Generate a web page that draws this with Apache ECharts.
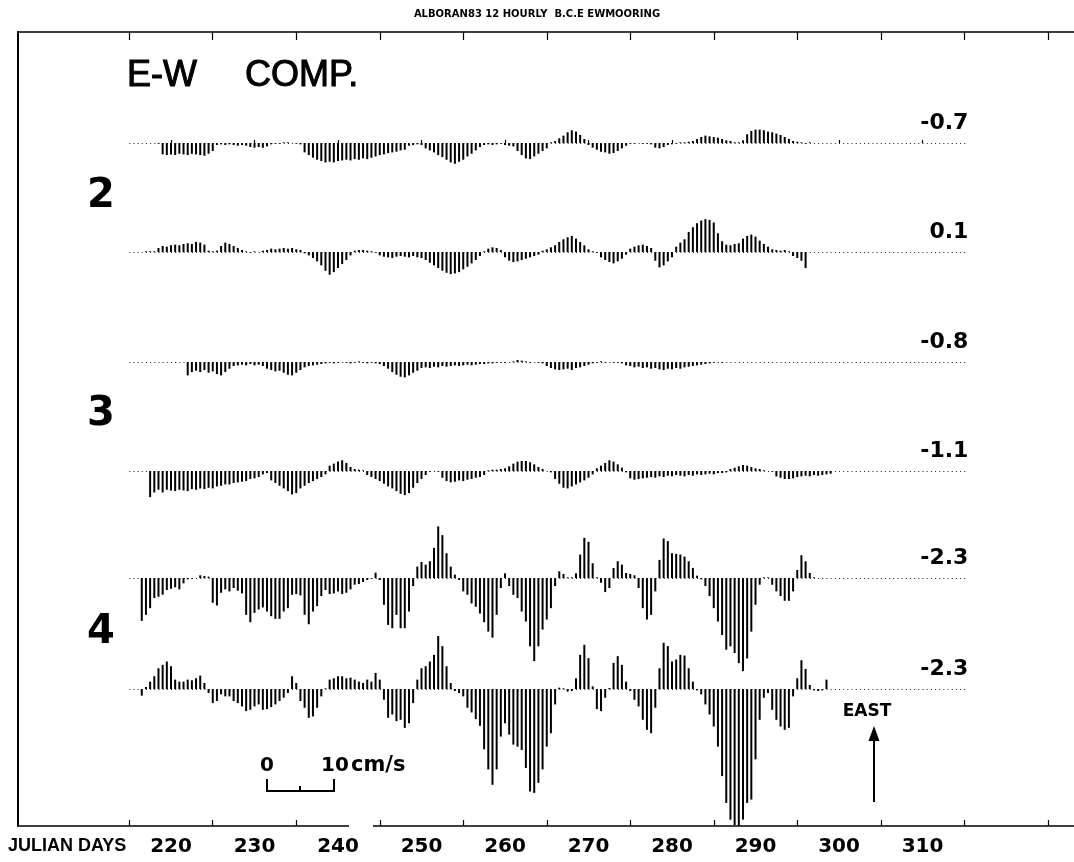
<!DOCTYPE html>
<html><head><meta charset="utf-8">
<script src="https://cdn.jsdelivr.net/npm/echarts@6/dist/echarts.min.js"></script>
<style>html,body{margin:0;padding:0;background:#fff}#c{width:1074px;height:862px}</style>
</head><body><div id="c"></div>
<script>
// ---------- DATA (12-hourly E-W velocity, cm/s; first sample at Julian day 216.0) ----------
const START_DAY = 216.0;
const STEP_DAYS = 0.5;

const ROW1 = [
  0,0,0,0,0,-0.1,
  -1.7,-1.8,-1.7,-1.8,-1.6,-1.7,-1.8,-1.6,-1.7,-1.8,-1.9,-1.6,-1.2,
  -0.3,-0.2,-0.3,-0.2,-0.3,-0.4,-0.3,-0.4,
  -0.6,-0.7,-0.6,-0.7,-0.5,
  -0.2,-0.1,-0.1,0.1,0.1,0,-0.1,-0.2,
  -1.4,-1.8,-2.2,-2.5,-2.7,
  -2.9,-2.8,-2.9,-2.7,
  -2.6,-2.5,-2.6,-2.4,-2.5,-2.3,-2.4,-2.2,-2.0,
  -1.8,-1.7,-1.5,-1.4,-1.3,-1.1,-1.0,
  -0.4,-0.3,-0.2,-0.3,
  -0.8,-1.1,-1.4,-1.8,-2.1,
  -2.5,-2.9,-3.1,-2.8,
  -2.5,-2.0,-1.6,-1.1,-0.6,
  -0.3,-0.2,-0.3,-0.2,-0.1,-0.3,-0.4,-0.5,
  -1.2,-1.8,-2.3,-2.4,-2.0,-1.6,-1.2,-0.8,
  0.1,0.3,
  0.7,1.1,1.6,1.9,1.7,1.2,0.6,
  -0.3,-0.7,-1.0,-1.3,-1.4,-1.6,-1.5,-1.2,-0.8,-0.4,
  -0.1,-0.1,0,-0.1,-0.1,-0.2,
  -0.7,-0.8,-0.6,
  -0.3,-0.2,-0.1,0.1,0.1,0.2,0.3,
  0.6,0.9,1.1,1.0,0.9,0.8,0.6,0.4,0.3,
  0.1,0.1,0.4,
  1.3,1.8,2.0,2.0,1.9,1.7,1.6,1.4,1.2,0.9,0.6,
  0.3,0.2,0.1,-0.1,0.1
];

const ROW2 = [
  0,0,0.1,0.1,0.1,0.6,
  0.9,0.8,1.0,1.1,1.0,1.2,1.3,1.2,1.5,1.4,1.1,
  0.2,0.1,0.2,
  0.9,1.4,1.2,0.9,0.6,0.3,
  0.1,-0.1,0.1,0,0.2,
  0.3,0.5,0.4,0.5,0.6,0.5,0.6,0.4,0.3,
  -0.2,-0.5,-0.9,-1.4,-2.0,-2.8,-3.4,-3.0,-2.4,-1.8,-1.2,-0.5,
  0.2,0.3,0.3,0.2,0.1,-0.1,
  -0.5,-0.7,-0.8,-0.9,-0.7,-0.6,-0.7,-0.8,-0.6,-0.8,
  -0.9,-1.2,-1.6,-2.0,-2.4,-2.8,-3.1,-3.3,-3.2,-3.0,-2.6,-2.2,-1.7,-1.2,-0.6,
  0.1,0.5,0.7,0.6,0.3,
  -0.8,-1.3,-1.5,-1.4,-1.2,-1.0,-0.8,-0.6,-0.4,
  0.2,0.4,0.7,1.0,1.5,1.9,2.2,2.4,2.0,1.5,1.0,0.4,
  0.1,-0.1,
  -0.8,-1.2,-1.5,-1.7,-1.4,-1.0,-0.4,
  0.5,0.8,1.0,1.1,0.9,0.6,
  -1.3,-2.3,-2.0,-1.4,-0.8,
  0.8,1.4,1.9,3.0,3.7,4.3,4.7,4.9,4.8,4.4,2.8,1.6,
  1.1,1.0,1.2,1.3,
  2.0,2.4,2.6,2.3,1.7,1.2,0.8,
  0.4,0.3,0.2,0.3,0.1,
  -0.6,-0.9,-1.3,-2.4
];

const ROW3 = [
  0,0,0,0,0,0,0,0,0,0,0,0,
  -2.0,-1.5,-1.3,-1.5,-1.2,-1.6,-1.4,-1.8,-2.0,-1.5,-1.0,
  -0.6,-0.5,-0.4,-0.5,-0.3,-0.5,-0.4,-0.6,
  -1.0,-1.2,-1.4,-1.3,-1.6,-1.9,-2.0,-1.6,-1.2,
  -0.8,-0.6,-0.5,-0.4,-0.3,-0.2,
  -0.1,-0.2,-0.1,0,-0.1,-0.2,-0.1,0.1,-0.1,-0.2,-0.1,-0.2,-0.3,-0.6,
  -1.0,-1.5,-1.9,-2.2,-2.3,-2.0,-1.6,-1.3,
  -0.9,-0.8,-0.9,-0.7,-0.8,-0.6,-0.7,-0.6,-0.5,-0.6,-0.5,-0.4,-0.5,-0.4,-0.3,-0.3,-0.2,-0.2,-0.1,-0.1,-0.1,0,0.1,
  0.3,0.2,0.1,-0.1,0,-0.1,-0.2,
  -0.6,-0.9,-1.1,-1.2,-1.1,-1.0,-1.2,-0.9,-0.8,-0.6,-0.4,
  -0.2,-0.1,0.1,-0.1,0,-0.1,-0.1,-0.2,
  -0.5,-0.6,-0.8,-0.7,-0.9,-0.8,-1.0,-0.9,-1.1,-1.2,-1.0,-1.1,-0.9,-1.0,-0.8,-0.7,-0.6,-0.5,-0.4,-0.3,-0.2,
  -0.1,0,-0.1,0
];

const ROW4 = [
  0,0,0,
  -3.9,-3.2,-2.8,-3.2,-2.8,-2.9,-3.0,-2.8,-2.9,-3.0,-2.7,-2.8,-2.6,-2.7,-2.5,
  -2.6,-2.3,-2.2,-2.0,-2.0,-1.8,-1.7,-1.6,-1.5,-1.2,-1.1,-0.9,-0.5,-0.3,
  -1.4,-1.8,-2.2,-2.6,-3.0,-3.5,-3.3,-2.6,-2.2,-1.8,-1.5,-1.2,-0.9,-0.5,
  0.8,1.1,1.4,1.6,1.2,0.6,0.3,0.2,0.1,
  -0.6,-0.9,-1.2,-1.5,-1.9,-2.3,-2.6,-3.0,-3.4,-3.6,-3.3,-2.5,-1.8,-1.2,-0.6,
  -0.1,0,-0.1,
  -1.0,-1.5,-1.7,-1.6,-1.4,-1.5,-1.3,-1.2,-1.0,-0.9,-0.6,
  0.1,0.2,0.2,0.3,0.4,
  0.7,1.1,1.4,1.5,1.5,1.3,1.0,0.6,0.3,
  0,-0.2,
  -1.2,-1.9,-2.5,-2.6,-2.3,-2.0,-1.7,-1.4,-1.0,-0.5,
  0.4,0.8,1.2,1.6,1.4,1.0,0.5,
  -0.2,-1.1,-1.3,-1.2,-1.1,-1.0,-0.9,-1.0,-0.8,-0.9,-0.7,-0.8,-0.6,-0.7,-0.8,-0.6,-0.7,-0.5,-0.6,-0.5,-0.4,-0.5,-0.3,-0.3,-0.2,
  0.3,0.5,0.7,0.9,0.8,0.6,0.4,0.3,0.1,
  0,-0.1,
  -0.8,-1.0,-1.2,-1.2,-1.1,-0.9,-0.8,-0.7,-0.8,-0.6,-0.7,-0.6,-0.5,-0.4
];

const ROW5 = [
  0,
  -6.4,-5.5,-4.5,-3.0,-2.8,-2.5,-1.8,-1.6,-1.4,-1.7,-0.8,-0.2,-0.1,0,
  0.4,0.3,0.2,
  -3.7,-4.1,-2.2,-1.7,-2.0,-1.5,-1.9,-2.3,
  -5.5,-6.6,-5.2,-4.7,-4.4,-5.0,-5.7,-6.1,-6.1,-5.0,-4.5,
  -2.5,-2.4,-2.6,
  -5.5,-6.9,-5.0,-4.2,-2.7,
  -1.8,-2.4,-2.3,-2.0,-2.4,-2.2,-1.7,-1.0,-0.9,-0.6,-0.3,
  -0.1,0.8,-0.3,
  -4.0,-7.0,-7.5,-5.5,-7.5,-7.5,-5.0,-1.2,
  1.7,2.4,2.0,2.5,4.5,7.7,6.4,3.7,1.7,0.5,
  -0.3,-2.0,-2.5,-3.8,-4.3,-5.3,-6.6,-8.0,-8.9,-5.5,-1.5,
  0.7,
  -1.2,-2.5,-3.0,-5.0,-6.5,-10.2,-12.4,-10.2,-7.7,-6.2,-4.5,-1.2,
  1.0,0.6,0.1,0.1,0.7,
  3.5,6.0,5.4,2.2,0.1,
  -0.7,-2.1,-1.5,
  1.5,2.5,2.0,0.75,0.6,0.4,
  -1.5,-4.5,-6.2,-5.5,-2.0,
  2.7,5.9,5.5,3.7,3.6,3.5,3.2,2.5,1.5,0.35,
  -0.2,-1.2,-2.7,-4.5,-6.5,-8.5,-10.7,-10.2,-11.2,-12.7,-13.9,-12.0,-8.0,-4.0,-1.0,
  0.1,0.1,
  -1.0,-2.0,-2.7,-3.4,-3.4,-2.0,
  1.2,3.4,2.5,0.75,0.1
];

const ROW6 = [
  0,-1.0,0.3,
  1.1,1.9,3.1,3.6,4.1,3.4,1.4,1.1,1.1,1.4,1.3,1.6,2.0,0.9,
  -0.6,-2.1,-1.8,-0.8,-1.1,-1.1,-1.8,-2.1,-2.6,-3.3,-3.1,-2.6,-2.3,-3.1,-3.0,-2.7,-2.3,-1.8,-1.3,-0.6,
  1.9,0.9,
  -1.8,-2.8,-4.3,-4.1,-2.8,-1.1,
  0.1,
  1.4,1.6,1.9,1.9,1.6,1.7,1.4,1.1,0.9,1.4,1.1,2.4,1.4,
  -1.6,-4.3,-3.8,-4.8,-4.6,-5.8,-5.1,-2.1,
  1.4,3.1,3.4,4.1,5.1,7.9,6.4,3.4,0.9,
  -0.3,-0.6,-1.1,-2.8,-3.5,-4.5,-5.5,-9.0,-12.0,-14.3,-12.0,-7.1,-5.1,-6.8,-8.3,-8.6,-9.1,-11.8,-15.3,-15.5,-14.0,-12.0,-8.6,-6.6,-2.3,
  0.2,0.1,-0.4,-0.3,
  1.6,5.1,6.6,4.6,0.4,
  -3.0,-3.3,-1.3,
  0.15,3.9,4.9,3.6,1.1,
  -0.3,-1.6,-2.6,-4.6,-6.1,-6.6,-2.8,
  3.1,6.9,6.4,4.1,4.4,5.1,5.0,3.1,1.1,
  -0.2,-0.8,-2.3,-3.8,-5.6,-8.6,-13.0,-17.0,-19.5,-20.3,-20.5,-19.5,-17.0,-16.5,-10.5,-4.6,-1.3,-0.6,
  -3.1,-4.6,-5.6,-6.1,-5.8,-1.1,
  1.6,4.3,3.0,0.6,
  -0.2,-0.3,-0.2,1.4,0
];

const ROWS = [ROW1, ROW2, ROW3, ROW4, ROW5, ROW6];
const ROW_MEANS = ['-0.7', '0.1', '-0.8', '-1.1', '-2.3', '-2.3'];
const MOORING_NUMBERS = ['2', '3', '4'];
const DAY_LABELS = [220, 230, 240, 250, 260, 270, 280, 290, 300, 310];
const MAJOR_TICKS = [215, 225, 235, 245, 255, 265, 275, 285, 295, 305, 315, 325];
const BASELINE_FROM = 215.0, BASELINE_TO = 315.5;

// ---------- LAYOUT ----------
const FRAME_L = 18, FRAME_T = 32, FRAME_B = 826, W = 1074, H = 862;
const PX_PER_DAY = 8.35, REF_DAY = 220, REF_X = 171;
const X_MIN = REF_DAY - (REF_X - FRAME_L) / PX_PER_DAY;
const X_MAX = REF_DAY + (W - REF_X) / PX_PER_DAY;
const BASE_Y = [143, 252, 362, 471, 578, 689];
const PX_PER_CMS = 6.7;
const dayX = d => REF_X + (d - REF_DAY) * PX_PER_DAY;

const chart = echarts.init(document.getElementById('c'));
const grids = [], xAxes = [], yAxes = [], series = [];
ROWS.forEach((row, i) => {
  grids.push({ left: FRAME_L, right: 0, top: FRAME_T, bottom: H - FRAME_B, containLabel: false });
  xAxes.push({
    type: 'value', gridIndex: i, min: X_MIN, max: X_MAX, position: 'bottom',
    show: i === 0,
    axisLine: { show: i === 0, onZero: false, lineStyle: { color: '#000', width: 1.6 } },
    axisTick: { show: i === 0, inside: true, length: 6, customValues: MAJOR_TICKS, lineStyle: { color: '#000', width: 1.2 } },
    axisLabel: { show: i === 0, customValues: DAY_LABELS, margin: 11, color: '#000',
      fontFamily: 'DejaVu Sans', fontWeight: 'bold', fontSize: 20, formatter: v => String(v) },
    splitLine: { show: false }
  });
  yAxes.push({
    type: 'value', gridIndex: i,
    min: -(FRAME_B - BASE_Y[i]) / PX_PER_CMS,
    max: (BASE_Y[i] - FRAME_T) / PX_PER_CMS,
    show: i === 0,
    axisLine: { show: i === 0, onZero: false, lineStyle: { color: '#000', width: 2 } },
    axisTick: { show: false }, axisLabel: { show: false }, splitLine: { show: false }
  });
  series.push({
    type: 'bar', xAxisIndex: i, yAxisIndex: i,
    data: row.map((v, k) => [START_DAY + k * STEP_DAYS, v]),
    barWidth: 2, itemStyle: { color: '#000' }, silent: true,
    markLine: {
      silent: true, symbol: ['none', 'none'], label: { show: false },
      lineStyle: { color: '#222', width: 1.2, type: [1, 3.175] },
      data: [[{ coord: [BASELINE_FROM, 0] }, { coord: [BASELINE_TO, 0] }]]
    }
  });
});
// short ticks under the day labels
xAxes.push({
  type: 'value', gridIndex: 0, min: X_MIN, max: X_MAX, position: 'bottom',
  axisLine: { show: false },
  axisTick: { show: true, inside: true, length: 3, customValues: DAY_LABELS, lineStyle: { color: '#000', width: 1.2 } },
  axisLabel: { show: false }, splitLine: { show: false }
});
// top frame with ticks
xAxes.push({
  type: 'value', gridIndex: 0, min: X_MIN, max: X_MAX, position: 'top',
  axisLine: { show: true, onZero: false, lineStyle: { color: '#000', width: 1.6 } },
  axisTick: { show: true, inside: true, length: 8, customValues: MAJOR_TICKS, lineStyle: { color: '#000', width: 1.2 } },
  axisLabel: { show: false }, splitLine: { show: false }
});

const txt = (x, y, text, font, align, bold) => ({
  type: 'text', x, y, z: 100,
  style: Object.assign({ text, font, fill: '#000', textAlign: align || 'left', textVerticalAlign: 'middle' },
    bold ? { stroke: '#000', lineWidth: bold } : {})
});
const labelX = dayX(BASELINE_TO);
const graphic = [
  txt(537, 14, 'ALBORAN83 12 HOURLY  B.C.E EWMOORING', 'bold 10px "DejaVu Sans"', 'center'),
  txt(127, 76, 'E-W', '36px "Liberation Sans"', 'left', 1),
  txt(245, 76, 'COMP.', '36px "Liberation Sans"', 'left', 1),
  txt(101, 197, MOORING_NUMBERS[0], 'bold 40px "DejaVu Sans"', 'center'),
  txt(101, 415, MOORING_NUMBERS[1], 'bold 40px "DejaVu Sans"', 'center'),
  txt(101, 633, MOORING_NUMBERS[2], 'bold 40px "DejaVu Sans"', 'center'),
  txt(8, 846, 'JULIAN DAYS', 'bold 18px "Liberation Sans"'),
  txt(267, 766, '0', 'bold 20px "DejaVu Sans"', 'center'),
  txt(321, 766, '10', 'bold 20px "DejaVu Sans"'),
  txt(351, 766, 'cm/s', 'bold 21px "DejaVu Sans"'),
  txt(867, 712, 'EAST', 'bold 17px "DejaVu Sans"', 'center'),
  { type: 'polyline', z: 100, shape: { points: [[267, 779], [267, 791], [334, 791], [334, 779]] },
    style: { stroke: '#000', lineWidth: 2, fill: null } },
  { type: 'line', z: 100, shape: { x1: 300, y1: 791, x2: 300, y2: 786 }, style: { stroke: '#000', lineWidth: 2 } },
  { type: 'line', z: 100, shape: { x1: 874, y1: 802, x2: 874, y2: 738 }, style: { stroke: '#000', lineWidth: 2 } },
  { type: 'polygon', z: 100, shape: { points: [[874, 726], [868.5, 741], [879.5, 741]] }, style: { fill: '#000' } },
  { type: 'rect', z: 100, shape: { x: 349, y: 821, width: 24, height: 9 }, style: { fill: '#fff' } }
];
ROW_MEANS.forEach((t, i) => graphic.push(txt(labelX, BASE_Y[i] - 20, t, 'bold 22px "DejaVu Sans"', 'right')));

chart.setOption({
  animation: false,
  backgroundColor: '#fff',
  grid: grids, xAxis: xAxes, yAxis: yAxes, series, graphic
});
</script></body></html>
